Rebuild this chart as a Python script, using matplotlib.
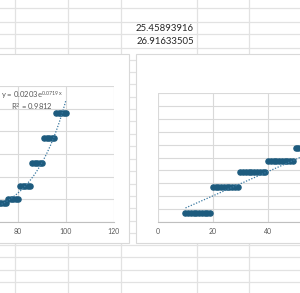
import numpy as np
import matplotlib
matplotlib.use("Agg")
import matplotlib.pyplot as plt
from matplotlib.patches import Rectangle

plt.rcParams['font.family'] = ['Lato', 'DejaVu Sans']
plt.rcParams['mathtext.fontset'] = 'custom'
plt.rcParams['mathtext.rm'] = 'Lato'
plt.rcParams['mathtext.it'] = 'Lato'

# cell values shown in the sheet
cell_values = ["25.45893916", "26.91633505"]

# left chart: step groups (x start, x end, y level)
left_groups = [(71, 75, 4.2), (76, 80, 5.1), (81, 85, 7.9),
               (86, 90, 13.0), (91, 95, 18.5), (96, 100, 24.0)]
left_coef_a = 0.0203
left_coef_b = 0.0719
left_r2 = 0.9812

# right chart: step groups
right_groups = [(10, 19, 0.70), (20, 29, 2.71), (30, 39, 3.88),
                (40, 49, 4.73), (50, 59, 5.74)]
right_slope = 0.094
right_intercept = 0.15

x_ticks = [0, 20, 40, 60, 80, 100, 120]

W, H = 300, 293
marker_c = '#1d5b7e'
trend_c = '#3a78a0'
grid_c = '#d9d9d9'
sheet_c = '#e2e2e2'


def expand(groups):
    xs, ys = [], []
    for a, b, v in groups:
        for x in range(a, b + 1):
            xs.append(x)
            ys.append(v)
    return np.array(xs, float), np.array(ys, float)


fig = plt.figure(figsize=(W / 100, H / 100), dpi=100)

# spreadsheet background
bg = fig.add_axes([0, 0, 1, 1])
bg.set_xlim(0, W)
bg.set_ylim(H, 0)
bg.axis('off')
row_y = [8.3, 21.5, 33.5, 47.5, 59.5, 72, 84, 96.5, 108.5, 121, 133.5, 146,
         158.5, 171, 183.5, 196, 208, 220.5, 233, 245, 257.3, 270, 282.3]
col_x = [15, 68, 121, 197, 249]
for y in row_y:
    bg.axhline(y, color=sheet_c, lw=0.9)
for x in col_x:
    bg.axvline(x, color=sheet_c, lw=0.9)

for i, s in enumerate(cell_values):
    bg.text(194, 28.3 + i * 12.9, s, ha='right', va='center',
            fontsize=6.9, color='#262626')

# chart panels
bg.add_patch(Rectangle((-10, 53.5), 139.3, 189, facecolor='white',
                       edgecolor=grid_c, lw=0.8, zorder=3))
bg.add_patch(Rectangle((136, 53.5), 180, 189, facecolor='white',
                       edgecolor=grid_c, lw=0.8, zorder=3))


def px_axes(left, top, right, bottom):
    return fig.add_axes([left / W, 1 - bottom / H, (right - left) / W, (bottom - top) / H])


def style(ax, ymax, ystep, lo=0, hi=120):
    ax.set_facecolor('none')
    ax.set_xlim(0, 120)
    ax.set_ylim(0, ymax)
    ax.set_xticks(x_ticks)
    # labels outside the picture edge are not shown
    ax.set_xticklabels([str(t) if lo <= t <= hi else '' for t in x_ticks])
    ax.set_yticks(np.arange(0, ymax + 0.01, ystep))
    ax.grid(True, color=grid_c, lw=0.8)
    ax.set_axisbelow(True)
    for sp in ['top', 'right', 'left']:
        ax.spines[sp].set_visible(False)
    ax.spines['bottom'].set_color('#bfbfbf')
    ax.spines['bottom'].set_linewidth(0.8)
    ax.tick_params(length=0, labelsize=5, labelcolor='#595959', pad=4.5)
    ax.set_yticklabels([])


# left chart
ax1 = px_axes(18 - 80 * 2.4, 86, 114, 222)
style(ax1, 30, 5, lo=80)
lx, ly = expand(left_groups)
ax1.plot(lx, ly, 'o', ms=3.7, color=marker_c, mec=marker_c, zorder=3)
tx = np.linspace(lx.min(), lx.max(), 200)
ax1.plot(tx, left_coef_a * np.exp(left_coef_b * tx), color=trend_c, lw=0.9,
         linestyle=(0, (1, 1.3)), zorder=4)
ax1.text(31.5 / W, 1 - 95 / H,
         "y = %.4fe$^{%.4fx}$" % (left_coef_a, left_coef_b),
         transform=fig.transFigure, ha='center', va='center', fontsize=5.5, color='#595959')
ax1.text(31.5 / W, 1 - 106.7 / H, "R$^{2}$ = %.4f" % left_r2,
         transform=fig.transFigure, ha='center', va='center', fontsize=5.5, color='#595959')

# right chart
ax2 = px_axes(158, 93, 158 + 120 * 2.75, 222)
style(ax2, 10, 1, hi=40)
rx, ry = expand(right_groups)
ax2.plot(rx, ry, 'o', ms=3.7, color=marker_c, mec=marker_c, zorder=3)
tx2 = np.linspace(rx.min(), rx.max(), 50)
ax2.plot(tx2, right_slope * tx2 + right_intercept, color=trend_c, lw=0.9,
         linestyle=(0, (1, 1.3)), zorder=4)

fig.savefig('out.png', dpi=100)
